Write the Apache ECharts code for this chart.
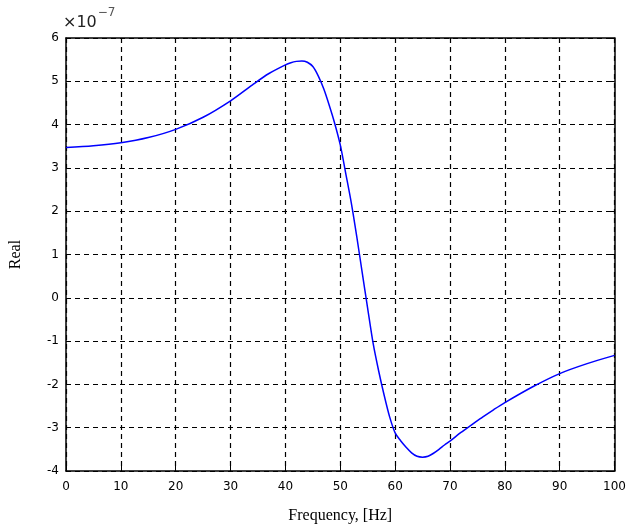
<!DOCTYPE html>
<html>
<head>
<meta charset="utf-8">
<script src="https://cdn.jsdelivr.net/npm/echarts@6/dist/echarts.min.js"></script>
<style>
  html, body { margin: 0; padding: 0; background: #fff; }
  #chart { width: 629px; height: 529px; }
</style>
</head>
<body>
<div id="chart"></div>
<script>
// frequency in Hz, real part in units of 1e-7
const freq = [0, 5, 10, 15, 20, 25, 30, 34, 37, 40, 41, 42, 43, 44, 45, 46, 47, 48, 49, 50,
  51, 52, 53, 54, 55, 56, 57, 58, 59, 60, 61, 62, 63, 64, 65, 66, 67, 68, 69, 70,
  72, 74, 76, 78, 80, 85, 90, 95, 100]
const realPart = [3.47, 3.51, 3.58, 3.70, 3.89, 4.17, 4.55, 4.92, 5.18, 5.38, 5.43, 5.46, 5.47, 5.44, 5.34, 5.12, 4.82, 4.44, 4.02, 3.53,
  2.87, 2.20, 1.42, 0.58, -0.25, -1.06, -1.69, -2.25, -2.75, -3.12, -3.30, -3.45, -3.58, -3.66, -3.68, -3.66, -3.59, -3.50, -3.40, -3.31,
  -3.11, -2.93, -2.75, -2.58, -2.42, -2.06, -1.75, -1.52, -1.33]
const xTicks = [0, 10, 20, 30, 40, 50, 60, 70, 80, 90, 100]
const yTicks = [-4, -3, -2, -1, 0, 1, 2, 3, 4, 5, 6]

const chart = echarts.init(document.getElementById('chart'))

const tickFont = { color: '#000', fontFamily: 'DejaVu Sans', fontSize: 12 }
const gridDash = { show: true, lineStyle: { color: '#000', width: 1.2, type: [5, 4] } }
const boxLine = { show: true, onZero: false, lineStyle: { color: '#000', width: 1.5 } }

chart.setOption({
  animation: false,
  title: {
    left: 58,
    top: 2,
    text: '{a|×10}{b|−7}',
    textStyle: {
      fontWeight: 'normal',
      rich: {
        a: { fontFamily: 'DejaVu Sans', fontSize: 16, fontWeight: 'normal', color: '#222', padding: [8, 0, 0, 0] },
        b: { fontFamily: 'DejaVu Sans', fontSize: 12, fontWeight: 'normal', color: '#555', verticalAlign: 'top', padding: [0, 0, 10, 1] }
      }
    }
  },
  grid: { left: 62, right: 14, top: 38, bottom: 58 },
  xAxis: [{
    type: 'value',
    min: 0,
    max: 100,
    interval: 10,
    name: 'Frequency, [Hz]',
    nameLocation: 'middle',
    nameGap: 37,
    nameTextStyle: { fontFamily: 'Liberation Serif', fontSize: 16, color: '#000' },
    axisLine: boxLine,
    axisTick: { inside: true, length: 5, lineStyle: { color: '#000' } },
    axisLabel: Object.assign({ margin: 10, formatter: v => xTicks.includes(v) ? String(v) : '' }, tickFont),
    splitLine: gridDash
  }, {
    type: 'value',
    position: 'top',
    min: 0,
    max: 100,
    interval: 10,
    axisLine: boxLine,
    axisTick: { inside: true, length: 5, lineStyle: { color: '#000' } },
    axisLabel: { show: false },
    splitLine: { show: false }
  }],
  yAxis: [{
    type: 'value',
    min: -4,
    max: 6,
    interval: 1,
    name: 'Real',
    nameLocation: 'middle',
    nameGap: 42,
    nameTextStyle: { fontFamily: 'Liberation Serif', fontSize: 16, color: '#000' },
    axisLine: boxLine,
    axisTick: { inside: true, length: 5, lineStyle: { color: '#000' } },
    axisLabel: Object.assign({ margin: 7, formatter: v => yTicks.includes(v) ? String(v) : '' }, tickFont),
    splitLine: gridDash
  }, {
    type: 'value',
    position: 'right',
    min: -4,
    max: 6,
    interval: 1,
    axisLine: boxLine,
    axisTick: { inside: true, length: 5, lineStyle: { color: '#000' } },
    axisLabel: { show: false },
    splitLine: { show: false }
  }],
  series: [{
    type: 'line',
    data: freq.map((f, i) => [f, realPart[i]]),
    smooth: 0.3,
    showSymbol: false,
    lineStyle: { color: '#0000ff', width: 1.5 }
  }]
})
</script>
</body>
</html>
